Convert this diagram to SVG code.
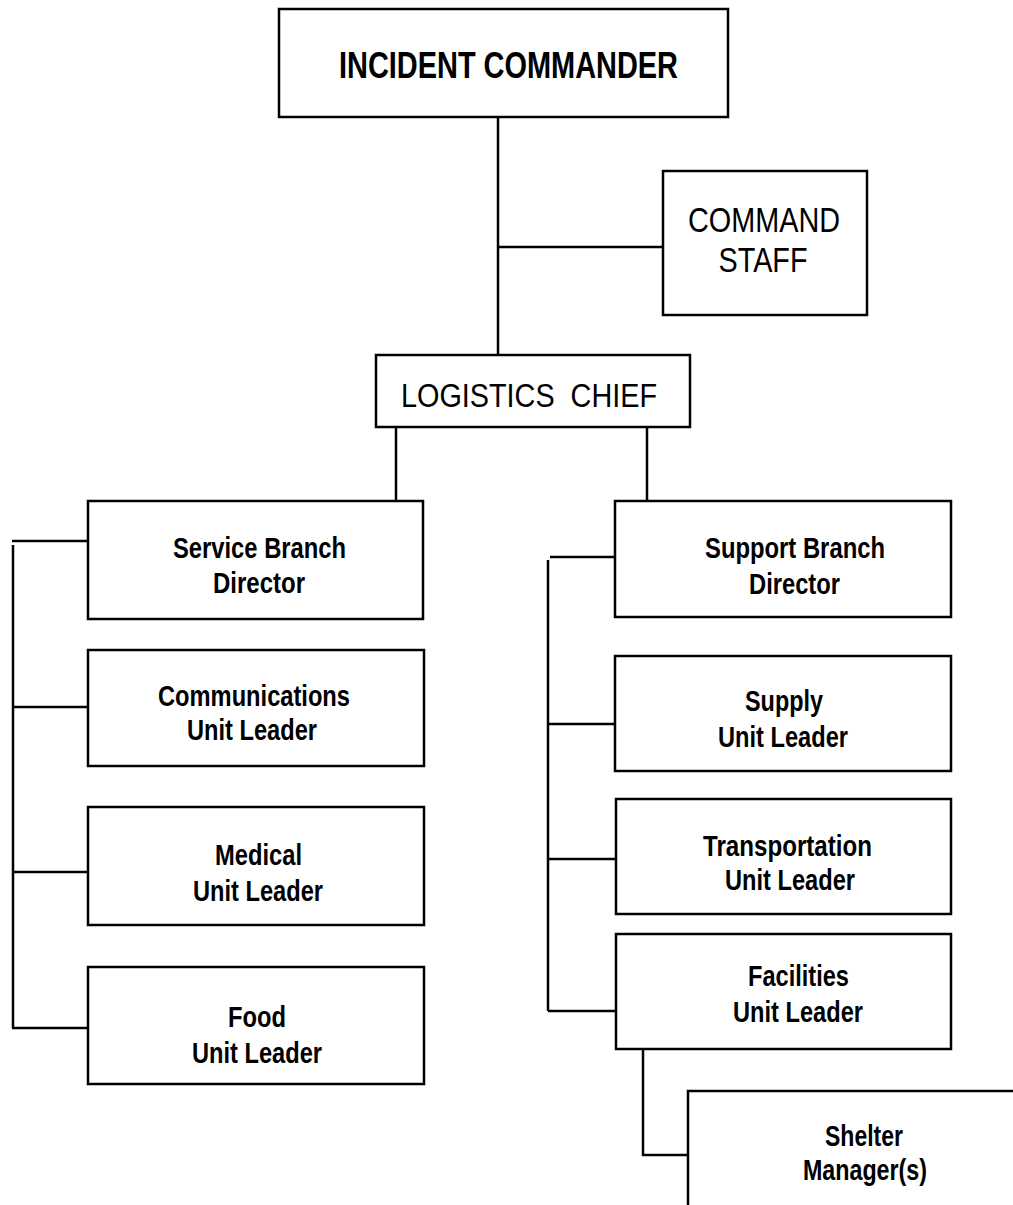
<svg xmlns="http://www.w3.org/2000/svg" width="1013" height="1205" viewBox="0 0 1013 1205">
  <style>
    .box { fill: #ffffff; stroke: #000000; stroke-width: 2.5; }
    .wire { fill: none; stroke: #000000; stroke-width: 2.5; }
    .head { font-family: "Liberation Sans", Arial, sans-serif; fill: #000000; text-anchor: middle; white-space: pre; }
    .unit { font-family: "Liberation Sans", Arial, sans-serif; font-size: 29px; font-weight: bold; fill: #000000; text-anchor: middle; }
  </style>
  <rect width="1013" height="1205" fill="#ffffff"/>

  <!-- reporting lines -->
  <g id="connectors">
    <path class="wire" d="M498,117 V355"/>
    <path class="wire" d="M498,247 H663"/>
    <path class="wire" d="M396,427 V501"/>
    <path class="wire" d="M647,427 V501"/>
    <!-- service branch spine -->
    <path class="wire" d="M13,545 V1028"/>
    <path class="wire" d="M12,541 H88"/>
    <path class="wire" d="M13,707 H88"/>
    <path class="wire" d="M13,872 H88"/>
    <path class="wire" d="M12,1028 H88"/>
    <!-- support branch spine -->
    <path class="wire" d="M548,560 V1011"/>
    <path class="wire" d="M550,557 H615"/>
    <path class="wire" d="M548,724 H615"/>
    <path class="wire" d="M548,859 H616"/>
    <path class="wire" d="M548,1011 H616"/>
    <!-- facilities to shelter -->
    <path class="wire" d="M643,1050 V1155 H688"/>
  </g>

  <g id="incident-commander">
    <rect class="box" x="279" y="9" width="449" height="108"/>
    <text class="head" x="508.5" y="78" font-size="36" font-weight="bold" textLength="339" lengthAdjust="spacingAndGlyphs">INCIDENT COMMANDER</text>
  </g>

  <g id="command-staff">
    <rect class="box" x="663" y="171" width="204" height="144"/>
    <text class="head" x="764" y="232" font-size="35" textLength="152" lengthAdjust="spacingAndGlyphs">COMMAND</text>
    <text class="head" x="763" y="272" font-size="35" textLength="89" lengthAdjust="spacingAndGlyphs">STAFF</text>
  </g>

  <g id="logistics-chief">
    <rect class="box" x="376" y="355" width="314" height="72"/>
    <text class="head" x="529" y="407" font-size="33" textLength="256" lengthAdjust="spacingAndGlyphs" xml:space="preserve">LOGISTICS  CHIEF</text>
  </g>

  <g id="service-branch-director">
    <rect class="box" x="88" y="501" width="335" height="118"/>
    <text class="unit" x="259.5" y="558" textLength="173" lengthAdjust="spacingAndGlyphs">Service Branch</text>
    <text class="unit" x="259" y="593" textLength="92" lengthAdjust="spacingAndGlyphs">Director</text>
  </g>

  <g id="communications-unit-leader">
    <rect class="box" x="88" y="650" width="336" height="116"/>
    <text class="unit" x="254" y="706" textLength="192" lengthAdjust="spacingAndGlyphs">Communications</text>
    <text class="unit" x="252" y="740" textLength="130" lengthAdjust="spacingAndGlyphs">Unit Leader</text>
  </g>

  <g id="medical-unit-leader">
    <rect class="box" x="88" y="807" width="336" height="118"/>
    <text class="unit" x="258.5" y="865" textLength="87" lengthAdjust="spacingAndGlyphs">Medical</text>
    <text class="unit" x="258" y="901" textLength="130" lengthAdjust="spacingAndGlyphs">Unit Leader</text>
  </g>

  <g id="food-unit-leader">
    <rect class="box" x="88" y="967" width="336" height="117"/>
    <text class="unit" x="257" y="1027" textLength="58" lengthAdjust="spacingAndGlyphs">Food</text>
    <text class="unit" x="257" y="1063" textLength="130" lengthAdjust="spacingAndGlyphs">Unit Leader</text>
  </g>

  <g id="support-branch-director">
    <rect class="box" x="615" y="501" width="336" height="116"/>
    <text class="unit" x="795" y="558" textLength="180" lengthAdjust="spacingAndGlyphs">Support Branch</text>
    <text class="unit" x="794.5" y="594" textLength="91" lengthAdjust="spacingAndGlyphs">Director</text>
  </g>

  <g id="supply-unit-leader">
    <rect class="box" x="615" y="656" width="336" height="115"/>
    <text class="unit" x="784" y="711" textLength="78" lengthAdjust="spacingAndGlyphs">Supply</text>
    <text class="unit" x="783" y="747" textLength="130" lengthAdjust="spacingAndGlyphs">Unit Leader</text>
  </g>

  <g id="transportation-unit-leader">
    <rect class="box" x="616" y="799" width="335" height="115"/>
    <text class="unit" x="787.5" y="856" textLength="169" lengthAdjust="spacingAndGlyphs">Transportation</text>
    <text class="unit" x="790" y="890" textLength="130" lengthAdjust="spacingAndGlyphs">Unit Leader</text>
  </g>

  <g id="facilities-unit-leader">
    <rect class="box" x="616" y="934" width="335" height="115"/>
    <text class="unit" x="798.5" y="986" textLength="101" lengthAdjust="spacingAndGlyphs">Facilities</text>
    <text class="unit" x="798" y="1022" textLength="130" lengthAdjust="spacingAndGlyphs">Unit Leader</text>
  </g>

  <g id="shelter-managers">
    <rect class="box" x="688" y="1091" width="340" height="130"/>
    <text class="unit" x="864" y="1146" textLength="78" lengthAdjust="spacingAndGlyphs">Shelter</text>
    <text class="unit" x="865" y="1180" textLength="124" lengthAdjust="spacingAndGlyphs">Manager(s)</text>
  </g>
</svg>
